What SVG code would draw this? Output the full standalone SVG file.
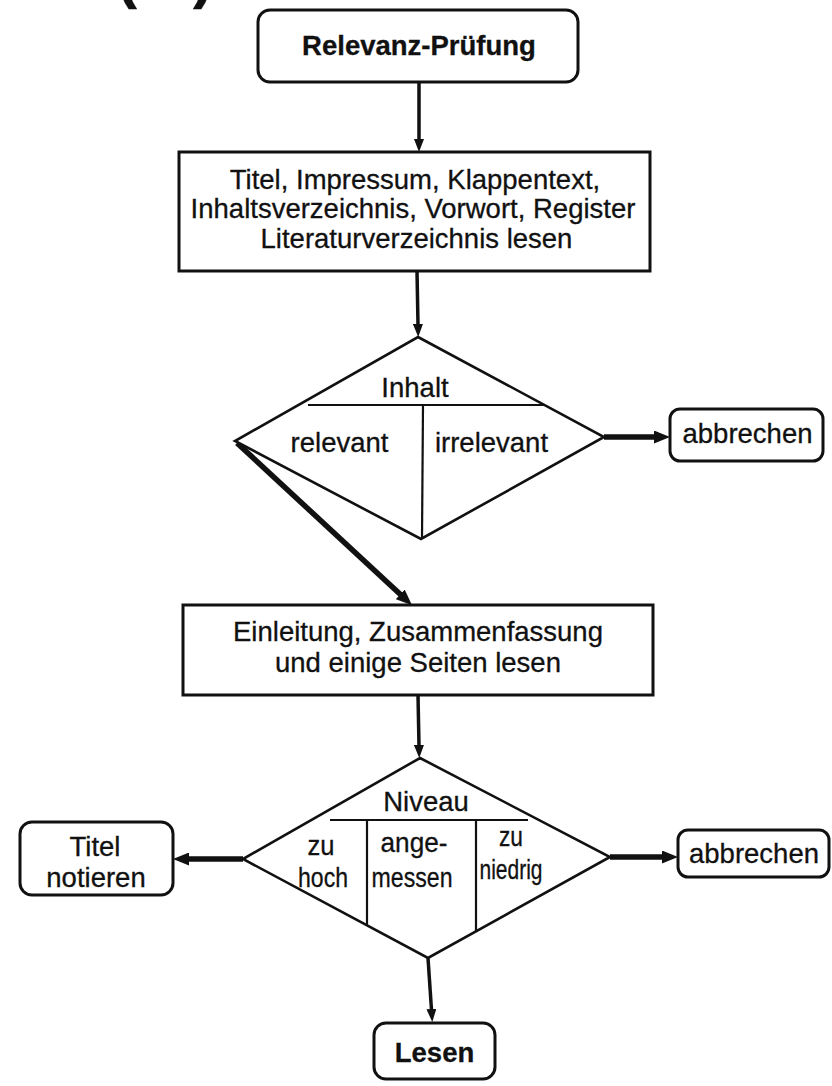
<svg xmlns="http://www.w3.org/2000/svg" width="832" height="1086" viewBox="0 0 832 1086">
<style>
.box{fill:#fff;stroke:#111;stroke-width:3}
.dia{fill:#fff;stroke:#111;stroke-width:2.6;stroke-linejoin:miter}
.div{stroke:#111;stroke-width:2.2;fill:none}
.t{font-family:"Liberation Sans",Arial,sans-serif;font-size:27.5px;fill:#111;stroke:#111;stroke-width:0.3;text-anchor:middle}
.b{font-weight:bold}
.c{stroke:#111;fill:none;stroke-width:3.5}
.ck{stroke:#111;fill:none;stroke-width:5.5}
</style>
<defs>
<marker id="ah" markerUnits="userSpaceOnUse" markerWidth="13" markerHeight="10" refX="1" refY="5" orient="auto"><path d="M0,0 L13,5 L0,10 z" fill="#111"/></marker>
<marker id="ahT" markerUnits="userSpaceOnUse" markerWidth="16" markerHeight="13" refX="1" refY="6.5" orient="auto"><path d="M0,0 L16,6.5 L0,13 z" fill="#111"/></marker>
</defs>
<rect width="832" height="1086" fill="#fff"/>
<g id="label">
<text class="t b" x="127" y="-3" style="font-size:60px">(</text>
<text class="t b" x="203" y="-3" style="font-size:60px">)</text>
</g>
<g id="connectors">
<line class="c" x1="419" y1="82" x2="419" y2="140" marker-end="url(#ah)"/>
<line class="c" x1="417" y1="271" x2="418" y2="325" marker-end="url(#ah)"/>
<line class="ck" x1="237" y1="443" x2="401" y2="595" marker-end="url(#ahT)"/>
<line class="ck" x1="604" y1="437" x2="655" y2="437" marker-end="url(#ahT)"/>
<line class="c" x1="418" y1="695" x2="419" y2="746" marker-end="url(#ah)"/>
<line class="ck" x1="243" y1="859" x2="188" y2="859" marker-end="url(#ahT)"/>
<line class="ck" x1="610" y1="857" x2="663" y2="857" marker-end="url(#ahT)"/>
<line class="c" x1="428" y1="958" x2="431.5" y2="1010" marker-end="url(#ah)"/>
</g>
<g id="start">
<rect class="box" x="258" y="10" width="320" height="72" rx="12"/>
<text class="t b" x="419" y="55">Relevanz-Prüfung</text>
</g>
<g id="read1">
<rect class="box" x="179" y="152" width="471" height="119"/>
<text class="t" x="415" y="189">Titel, Impressum, Klappentext,</text>
<text class="t" x="413" y="218">Inhaltsverzeichnis, Vorwort, Register</text>
<text class="t" x="416.5" y="248">Literaturverzeichnis lesen</text>
</g>
<g id="decision1">
<polygon class="dia" points="418,337 604,437 421,539 235,441"/>
<line class="div" x1="308" y1="405" x2="545" y2="405"/>
<line class="div" x1="423" y1="405" x2="422" y2="539"/>
<text class="t" x="415" y="397">Inhalt</text>
<text class="t" x="339.5" y="452">relevant</text>
<text class="t" x="491.5" y="452">irrelevant</text>
</g>
<g id="stop1">
<rect class="box" x="670" y="409" width="153" height="52" rx="10"/>
<text class="t" x="747.5" y="443">abbrechen</text>
</g>
<g id="read2">
<rect class="box" x="183" y="605" width="470" height="90"/>
<text class="t" x="418" y="641">Einleitung, Zusammenfassung</text>
<text class="t" x="418" y="672">und einige Seiten lesen</text>
</g>
<g id="decision2">
<polygon class="dia" points="420,758 610,857 428,958 243,859"/>
<line class="div" x1="330" y1="820" x2="528" y2="820"/>
<line class="div" x1="367" y1="820" x2="367" y2="925"/>
<line class="div" x1="476" y1="820" x2="476" y2="931"/>
<text class="t" x="426" y="811">Niveau</text>
<text class="t" x="321" y="855" textLength="27" lengthAdjust="spacingAndGlyphs">zu</text>
<text class="t" x="323" y="887" textLength="50" lengthAdjust="spacingAndGlyphs">hoch</text>
<text class="t" x="414" y="852" textLength="67" lengthAdjust="spacingAndGlyphs">ange-</text>
<text class="t" x="412" y="887" textLength="81" lengthAdjust="spacingAndGlyphs">messen</text>
<text class="t" x="511" y="846" textLength="24" lengthAdjust="spacingAndGlyphs">zu</text>
<text class="t" x="511" y="879" textLength="63" lengthAdjust="spacingAndGlyphs">niedrig</text>
</g>
<g id="note">
<rect class="box" x="20" y="822" width="153" height="73" rx="12"/>
<text class="t" x="95" y="856">Titel</text>
<text class="t" x="96" y="887">notieren</text>
</g>
<g id="stop2">
<rect class="box" x="678" y="830" width="151" height="47" rx="10"/>
<text class="t" x="754" y="863">abbrechen</text>
</g>
<g id="end">
<rect class="box" x="374" y="1023" width="121" height="56" rx="12"/>
<text class="t b" x="434.5" y="1062">Lesen</text>
</g>
</svg>
